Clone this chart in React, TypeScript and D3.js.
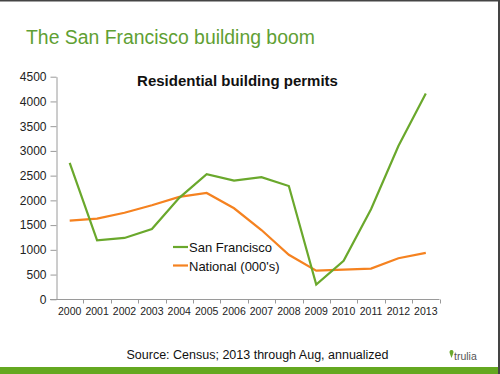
import React, { useEffect, useRef } from "react";
import * as d3 from "d3";

const years = ["2000","2001","2002","2003","2004","2005","2006","2007","2008","2009","2010","2011","2012","2013"];
const sanFrancisco = [2760, 1190, 1240, 1420, 2050, 2530, 2400, 2470, 2290, 300, 780, 1820, 3100, 4160];
const national = [1590, 1630, 1750, 1900, 2070, 2150, 1840, 1400, 900, 580, 600, 620, 830, 940];
const yTicks = [0, 500, 1000, 1500, 2000, 2500, 3000, 3500, 4000, 4500];

const GREEN = "#6aa82c";
const ORANGE = "#f58220";
const FONT = "Liberation Sans, Arial, sans-serif";

export default function App() {
  const svgRef = useRef<SVGSVGElement>(null);

  useEffect(() => {
    const svg = d3.select(svgRef.current);
    svg.selectAll(".chart").remove();
    const g = svg.append("g").attr("class", "chart");

    const x = d3.scaleBand().domain(years).range([56, 439.5]);
    const y = d3.scaleLinear().domain([0, 4500]).range([299.3, 76.7]);

    // y axis
    const yAxis = d3.axisLeft(y).tickValues(yTicks).tickFormat(d3.format("d"))
      .tickSize(6).tickSizeOuter(0).tickPadding(4);
    const ya = g.append("g").attr("transform", "translate(56.5,0)").call(yAxis);
    ya.select(".domain").attr("stroke", "#9a9a9a");
    ya.selectAll(".tick line").attr("stroke", "#9a9a9a");
    ya.selectAll(".tick text")
      .attr("fill", "#222")
      .style("font-family", FONT)
      .style("font-size", "12px");

    // x axis
    const xa = g.append("g").attr("transform", "translate(0,299.5)");
    xa.append("line").attr("x1", 50).attr("x2", x.range()[1]).attr("stroke", "#9a9a9a");
    const bounds = years.map((yr) => x(yr)! + x.bandwidth());
    xa.selectAll(".xt").data(bounds).join("line")
      .attr("x1", (d) => Math.round(d) + 0.5).attr("x2", (d) => Math.round(d) + 0.5)
      .attr("y1", 0).attr("y2", 4).attr("stroke", "#9a9a9a");
    xa.selectAll(".xl").data(years).join("text")
      .attr("x", (d) => x(d)! + x.bandwidth() / 2)
      .attr("y", 15)
      .attr("text-anchor", "middle")
      .attr("fill", "#222")
      .style("font-family", FONT)
      .style("font-size", "10.5px")
      .text((d) => d);

    const line = d3.line<number>()
      .x((_, i) => x(years[i])! + x.bandwidth() / 2)
      .y((d) => y(d));

    g.append("path").datum(national).attr("d", line)
      .attr("fill", "none").attr("stroke", ORANGE).attr("stroke-width", 2.2);
    g.append("path").datum(sanFrancisco).attr("d", line)
      .attr("fill", "none").attr("stroke", GREEN).attr("stroke-width", 2.2);

    // legend
    const legend = [
      { name: "San Francisco", color: GREEN },
      { name: "National (000's)", color: ORANGE },
    ];
    const lg = g.append("g").attr("transform", "translate(173,247)");
    legend.forEach((l, i) => {
      lg.append("line").attr("x1", 0).attr("x2", 15)
        .attr("y1", i * 18.5).attr("y2", i * 18.5)
        .attr("stroke", l.color).attr("stroke-width", 2.2);
      lg.append("text").attr("x", 16).attr("y", i * 18.5 + 5)
        .attr("fill", "#111")
        .style("font-family", FONT)
        .style("font-size", "13px")
        .text(l.name);
    });
  }, []);

  return (
    <svg ref={svgRef} width={500} height={374}
      style={{ position: "absolute", left: 0, top: 0, background: "#fff" }}>
      <rect x={0} y={0} width={500} height={1.5} fill="#444" />
      <rect x={498} y={0} width={2} height={374} fill="#444" />
      <rect x={0} y={367} width={498} height={7} fill="#64a820" />
      <text x={26} y={44} fill="#5fa033"
        style={{ fontFamily: FONT, fontSize: "19.4px" }}>
        The San Francisco building boom
      </text>
      <text x={237.5} y={86} textAnchor="middle" fill="#111"
        style={{ fontFamily: FONT, fontSize: "15px", fontWeight: "bold" }}>
        Residential building permits
      </text>
      <text x={257.5} y={359} textAnchor="middle" fill="#111"
        style={{ fontFamily: FONT, fontSize: "12.5px" }}>
        Source: Census; 2013 through Aug, annualized
      </text>
      <g transform="translate(449,350)">
        <path d="M2.5,0 C4.5,0 5,2 4,4 L2.5,8 L1,4 C0,2 0.5,0 2.5,0 Z" fill="#6aa82c" />
        <text x={5} y={10} fill="#555"
          style={{ fontFamily: FONT, fontSize: "10.5px" }}>trulia</text>
      </g>
    </svg>
  );
}
